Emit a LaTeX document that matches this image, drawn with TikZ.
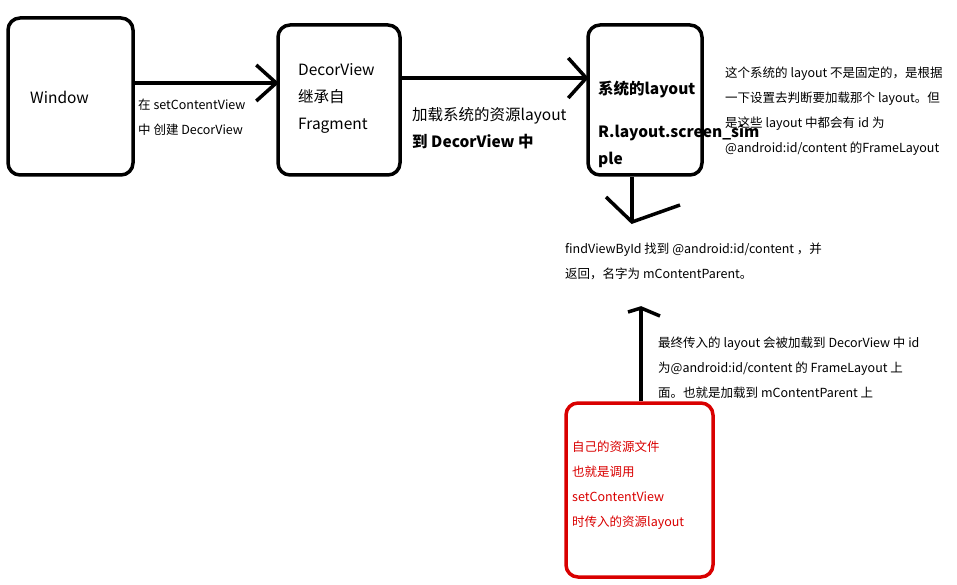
\documentclass[tikz,border=0pt]{standalone}
\usepackage{fontspec}
\setmainfont{Noto Sans CJK SC}
\usetikzlibrary{positioning,calc}
\tikzset{>=latex}
\tikzset{
  blockbox/.style={draw, line width=3.5pt, rounded corners=12pt, inner sep=0pt},
  note/.style={anchor=west, align=left, font=\fontsize{12.5}{25}\selectfont, inner sep=0pt},
  bignote/.style={anchor=west, align=left, font=\fontsize{15.5}{27}\selectfont, inner sep=0pt},
  conn/.style={line width=3.5pt}
}
\begin{document}
\begin{tikzpicture}[x=1pt,y=-1pt]
  \useasboundingbox (0,0) rectangle (957,585);
  % boxes
  \node[blockbox, minimum width=125pt, minimum height=157pt] (win) at (70.5,96.5) {};
  \node[blockbox, minimum width=122pt, minimum height=150pt] (decor) at (339,100) {};
  \node[blockbox, minimum width=114pt, minimum height=150pt] (sys) at (645,100) {};
  \node[blockbox, draw=red!85!black, minimum width=147pt, minimum height=174pt] (own) at (639.5,490) {};
  % box texts
  \node[bignote] (wintxt) at (30,97) {Window};
  \node[bignote] (decortxt) at (298,98) {DecorView\\继承自\\Fragment};
  \node[note, font=\bfseries\fontsize{15.5}{27}\selectfont] (systxt) at (598,89) {系统的layout};
  \node[note, font=\bfseries\fontsize{15.5}{27}\selectfont] (systxt2) at (598,146) {R.layout.screen\_sim\\ple};
  \node[note, text=red!85!black] (owntxt) at (572,485) {自己的资源文件\\也就是调用\\setContentView\\时传入的资源layout};
  % labels
  \node[note] (l1) at (138,117) {在 setContentView\\中 创建 DecorView};
  \node[bignote] (l2) at (412,128) {加载系统的资源layout\\\textbf{到 DecorView 中}};
  \node[note] (l3) at (725,111) {这个系统的 layout 不是固定的，是根据\\一下设置去判断要加载那个 layout。但\\是这些 layout 中都会有 id 为\\@android:id/content 的FrameLayout};
  \node[note] (find) at (565,261) {findViewById 找到 @android:id/content ，并\\返回，名字为 mContentParent。};
  \node[note] (l4) at (658,368) {最终传入的 layout 会被加载到 DecorView 中 id\\为@android:id/content 的 FrameLayout 上\\面。也就是加载到 mContentParent 上};
  % connectors
  \coordinate (a1) at (win.east |- 0,83);
  \coordinate (a2) at (decor.west |- 0,83);
  \draw[conn] (a1) -- (a2);
  \draw[conn] ($(a2)+(-20,-18)$) -- (a2) -- ($(a2)+(-20,18)$);
  \coordinate (b1) at (decor.east |- 0,78);
  \coordinate (b2) at (sys.west |- 0,78);
  \draw[conn] (b1) -- (b2);
  \draw[conn] ($(b2)+(-18,-20)$) -- (b2) -- ($(b2)+(-18,20)$);
  \coordinate (c1) at (sys.south -| 632,0);
  \coordinate (c2) at (632,222);
  \draw[conn] (c1) -- (c2);
  \draw[conn] (606,197) -- (c2) -- (680,205);
  \coordinate (d1) at (own.north -| 641,0);
  \coordinate (d2) at (641,308);
  \draw[conn] (d1) -- (d2);
  \draw[conn] (628,312) -- (d2) -- (660,316);
\end{tikzpicture}
\end{document}
